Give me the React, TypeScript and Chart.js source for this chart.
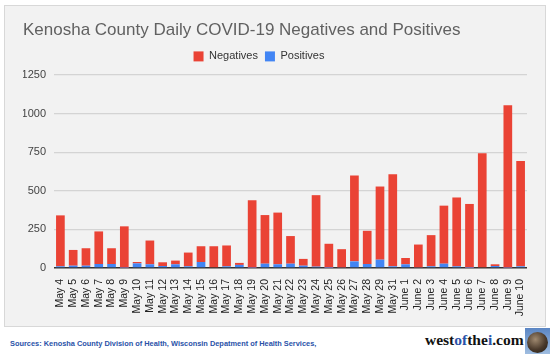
import React, { useEffect, useRef } from "react";
import { Chart, registerables } from "chart.js";

Chart.register(...registerables);

const categories = [
  "May 4", "May 5", "May 6", "May 7", "May 8", "May 9", "May 10", "May 11", "May 12", "May 13",
  "May 14", "May 15", "May 16", "May 17", "May 18", "May 19", "May 20", "May 21", "May 22", "May 23",
  "May 24", "May 25", "May 26", "May 27", "May 28", "May 29", "May 31",
  "June 1", "June 2", "June 3", "June 4", "June 5", "June 6", "June 7", "June 8", "June 9", "June 10",
];

const negatives = [
  330, 102, 113, 211, 102, 268, 9, 154, 24, 24,
  89, 102, 136, 135, 13, 437, 315, 335, 179, 44,
  463, 156, 118, 557, 215, 474, 596,
  41, 148, 202, 376, 446, 414, 743, 11, 1052, 682,
];

const positives = [
  11, 15, 15, 26, 26, 2, 30, 24, 13, 24,
  11, 39, 5, 11, 20, 2, 28, 24, 28, 15,
  9, 1, 4, 43, 26, 54, 11,
  24, 4, 11, 28, 11, 1, 0, 13, 2, 11,
];

const yTicks = [0, 250, 500, 750, 1000, 1250];

const RED = "#ea4335";
const BLUE = "#4285f4";
const FONT = "Arial, 'Liberation Sans', sans-serif";

const legendShift = {
  id: "legendShift",
  afterLayout(chart: any) {
    if (chart.legend) {
      chart.legend.left -= 16;
      chart.legend.right -= 16;
    }
  },
};

export default function App() {
  const ref = useRef<HTMLCanvasElement | null>(null);

  useEffect(() => {
    if (!ref.current) return;
    const chart = new Chart(ref.current, {
      type: "bar",
      data: {
        labels: categories,
        datasets: [
          {
            label: "Positives",
            data: positives,
            backgroundColor: BLUE,
            barPercentage: 0.68,
            categoryPercentage: 1,
          },
          {
            label: "Negatives",
            data: negatives,
            backgroundColor: RED,
            barPercentage: 0.68,
            categoryPercentage: 1,
          },
        ],
      },
      plugins: [legendShift],
      options: {
        animation: false,
        responsive: false,
        maintainAspectRatio: false,
        layout: { padding: { left: 18, right: 18, top: 0, bottom: 0 } },
        plugins: {
          title: {
            display: true,
            text: "Kenosha County Daily COVID-19 Negatives and Positives",
            align: "start",
            color: "#616161",
            font: { family: FONT, size: 17, weight: "normal" },
            padding: { top: 14.5, bottom: 3 },
          },
          subtitle: {
            display: true,
            text: "",
            weight: 500,
            font: { size: 1 },
            padding: { top: 2, bottom: 0 },
          } as any,
          legend: {
            display: true,
            position: "top",
            labels: {
              boxWidth: 10,
              boxHeight: 10,
              color: "#333",
              padding: 7,
              font: { family: FONT, size: 11 },
              sort: (a: any, b: any) => b.datasetIndex - a.datasetIndex,
            },
          },
          tooltip: { enabled: false },
        },
        scales: {
          x: {
            stacked: true,
            grid: { display: false },
            border: { display: false },
            ticks: {
              minRotation: 90,
              maxRotation: 90,
              autoSkip: false,
              color: "#222",
              padding: 3,
              font: { family: FONT, size: 10.5 },
            },
            afterFit: (s: any) => {
              s.height = 58;
            },
          },
          y: {
            stacked: true,
            min: 0,
            max: 1250,
            afterBuildTicks: (s: any) => {
              s.ticks = yTicks.map((v) => ({ value: v }));
            },
            grid: {
              drawTicks: false,
              color: (c: any) => (c.tick && c.tick.value === 0 ? "#333" : "#d4d4d4"),
              lineWidth: (c: any) => (c.tick && c.tick.value === 0 ? 1.5 : 1.3),
            },
            border: { display: false },
            ticks: {
              color: "#444",
              padding: 8,
              font: { family: FONT, size: 11 },
              callback: (v: any) => String(v),
            },
            afterFit: (s: any) => {
              s.width = 31;
            },
          },
        },
      },
    });
    return () => chart.destroy();
  }, []);

  return (
    <div style={{ position: "absolute", left: 0, top: 0, width: 550, height: 354, background: "#fff", overflow: "hidden" }}>
      <div
        style={{
          position: "absolute",
          left: 4,
          top: 5,
          width: 540,
          height: 320,
          background: "#f2f2f2",
          border: "1px solid #d8d8d8",
        }}
      >
        <canvas ref={ref} width={540} height={320} style={{ display: "block" }} />
      </div>
      <div
        style={{
          position: "absolute",
          left: 10,
          top: 339,
          fontFamily: FONT,
          fontWeight: "bold",
          fontSize: 7.4,
          lineHeight: "9px",
          color: "#2a52a8",
          whiteSpace: "nowrap",
        }}
      >
        Sources: Kenosha County Division of Health, Wisconsin Depatment of Health Services,
      </div>
      <div
        style={{
          position: "absolute",
          left: 425,
          top: 331,
          fontFamily: "'Liberation Serif', 'Times New Roman', serif",
          fontWeight: "bold",
          fontSize: 15.5,
          lineHeight: "18px",
          color: "#111",
          whiteSpace: "nowrap",
        }}
      >
        west<span style={{ color: "#2a52a8" }}>of</span>the<span style={{ color: "#2a52a8" }}>i</span>.com
      </div>
      <div
        style={{
          position: "absolute",
          left: 525,
          top: 328,
          width: 25,
          height: 26,
          background: "linear-gradient(#5b86c4, #9fbde0)",
          overflow: "hidden",
        }}
      >
        <div
          style={{
            position: "absolute",
            left: 2,
            top: 4,
            width: 21,
            height: 21,
            borderRadius: "50%",
            background: "radial-gradient(circle at 40% 35%, #a08a70, #4a3a2c 55%, #1e1812)",
          }}
        />
      </div>
    </div>
  );
}
